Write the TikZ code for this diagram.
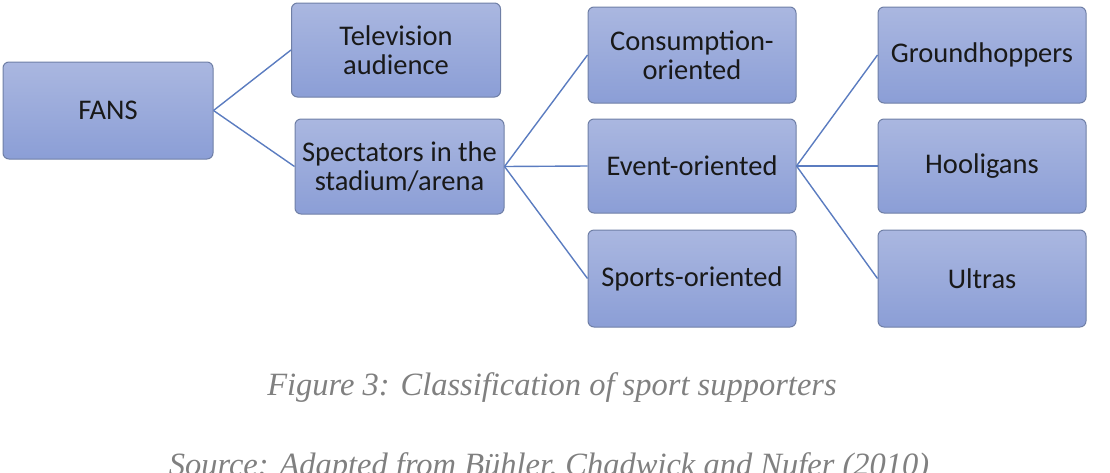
\documentclass[tikz,border=0pt]{standalone}
\usepackage{fontspec}
\setmainfont{Carlito}
\newfontfamily\capfont{Liberation Serif}
\definecolor{boxtop}{HTML}{AAB7E0}
\definecolor{boxbot}{HTML}{8B9ED6}
\definecolor{boxline}{HTML}{6F7FA6}
\definecolor{linkblue}{HTML}{5B7CC0}
\definecolor{capgray}{HTML}{808080}
\begin{document}
\begin{tikzpicture}[x=1pt,y=-1pt,
  fbox/.style={draw=boxline, line width=1pt, rounded corners=6pt,
    top color=boxtop, bottom color=boxbot, align=center,
    minimum width=209pt, minimum height=95pt, inner sep=0pt,
    text=black!90, font=\fontsize{28.5}{29}\selectfont},
  link/.style={draw=linkblue, line width=1.4pt},
  captext/.style={text=capgray, font=\capfont\itshape\fontsize{32.5}{34}\selectfont, anchor=base, inner sep=0pt}]
\useasboundingbox (0,0) rectangle (1110,472);
\node[fbox, minimum width=210pt, minimum height=97pt] (fans) at (108,110.5) {FANS};
\node[fbox, minimum height=94pt] (tv) at (396,50) {Television\\audience};
\node[fbox] (spec) at (399.5,166.5) {Spectators in the\\stadium/arena};
\node[fbox, minimum width=208pt, minimum height=96pt] (cons) at (692,55) {Consumption-\\oriented};
\node[fbox, minimum width=208pt, minimum height=94pt] (event) at (692,166) {Event-oriented};
\node[fbox, minimum width=208pt, minimum height=97pt] (sports) at (692,278.5) {Sports-oriented};
\node[fbox, minimum width=208pt, minimum height=96pt] (ground) at (982,55) {Groundhoppers};
\node[fbox, minimum width=208pt, minimum height=94pt] (hool) at (982,166) {Hooligans};
\node[fbox, minimum width=208pt, minimum height=97pt] (ultras) at (982,278.5) {Ultras};
\draw[link] (fans.east) -- (tv.west);
\draw[link] (fans.east) -- (spec.west);
\draw[link] (spec.east) -- (cons.west);
\draw[link] (spec.east) -- (event.west);
\draw[link] (spec.east) -- (sports.west);
\draw[link] (event.east) -- (ground.west);
\draw[link] (event.east) -- (hool.west);
\draw[link] (event.east) -- (ultras.west);
\node[captext] (figcap) at (552,395) {Figure 3: Classification of sport supporters};
\node[captext] (srccap) at (549,475) {Source: Adapted from Bühler, Chadwick and Nufer (2010)};
\end{tikzpicture}
\end{document}
